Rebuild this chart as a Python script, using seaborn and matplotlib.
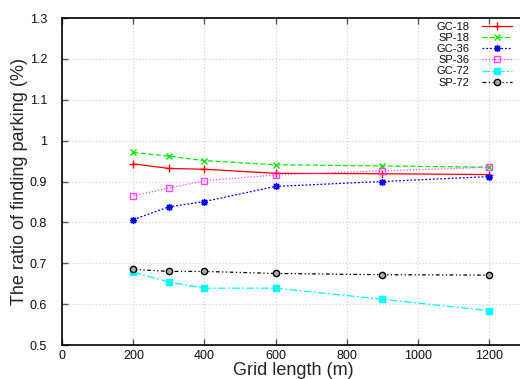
import seaborn as sns
import matplotlib.pyplot as plt
import pandas as pd

# grid lengths (m) and ratio of finding parking per method
grid_length = [200, 300, 400, 600, 900, 1200]
gc_18 = [0.943, 0.932, 0.930, 0.920, 0.919, 0.917]
sp_18 = [0.971, 0.962, 0.951, 0.941, 0.938, 0.935]
gc_36 = [0.807, 0.838, 0.851, 0.888, 0.900, 0.912]
sp_36 = [0.865, 0.884, 0.902, 0.916, 0.926, 0.935]
gc_72 = [0.678, 0.654, 0.639, 0.639, 0.612, 0.584]
sp_72 = [0.685, 0.680, 0.680, 0.675, 0.672, 0.671]

series = {'GC-18': gc_18, 'SP-18': sp_18, 'GC-36': gc_36,
          'SP-36': sp_36, 'GC-72': gc_72, 'SP-72': sp_72}

df = pd.DataFrame({'Grid length': grid_length, **series})
long_df = df.melt(id_vars='Grid length', var_name='Method', value_name='Ratio')

styles = {
    'GC-18': dict(color='#ff0000', ls='-', marker='+', ms=6, mfc='#ff0000', mew=1.0),
    'SP-18': dict(color='#00ee00', ls=(0, (4, 2)), marker='x', ms=4.5, mfc='#00ee00', mew=1.0),
    'GC-36': dict(color='#0000ff', ls=(0, (1.5, 1.5)), marker=(8, 2, 0), ms=5, mfc='#0000ff', mew=1.0),
    'SP-36': dict(color='#ff44ff', ls=(0, (1, 1.5)), marker='s', ms=4.5, mfc='none', mew=1.0),
    'GC-72': dict(color='#00ffff', ls=(0, (6, 2, 1.5, 2)), marker='s', ms=4.5, mfc='#00ffff', mew=1.0),
    'SP-72': dict(color='#000000', ls=(0, (3, 2, 1, 2, 1, 2)), marker='o', ms=4.5, mfc='#aaaaaa', mew=1.0),
}

sns.set_style('ticks')
plt.rcParams['font.family'] = ['Liberation Sans', 'DejaVu Sans']

fig = plt.figure(figsize=(5.2, 3.79), dpi=100)
ax = fig.add_axes([0.120, 0.0897, 0.888, 0.8628])

for name in series:
    st = styles[name]
    sub = long_df[long_df['Method'] == name]
    sns.lineplot(data=sub, x='Grid length', y='Ratio', ax=ax, label=name,
                 color=st['color'], linestyle=st['ls'], linewidth=0.9,
                 marker=st['marker'], markersize=st['ms'],
                 markerfacecolor=st['mfc'], markeredgecolor=st['color'],
                 markeredgewidth=st['mew'])

ax.set_xlim(0, 1300)
ax.set_ylim(0.5, 1.3)
ax.set_xticks([0, 200, 400, 600, 800, 1000, 1200])
ax.set_yticks([0.5, 0.6, 0.7, 0.8, 0.9, 1.0, 1.1, 1.2, 1.3])
ax.set_yticklabels(['0.5', '0.6', '0.7', '0.8', '0.9', '1', '1.1', '1.2', '1.3'])
ax.grid(True, color='#d0d0d0', linestyle=(0, (1, 2)), linewidth=0.8)
ax.tick_params(direction='in', top=True, right=False, labelsize=9, length=4,
               color='#555555', width=1.0, labelcolor='#111111')
ax.tick_params(axis='y', pad=11)
for s in ['left', 'bottom', 'top']:
    ax.spines[s].set_linewidth(1.2)
    ax.spines[s].set_color('black')
ax.spines['right'].set_visible(False)

ax.set_xlabel('Grid length (m)', fontsize=13, labelpad=0)
ax.set_ylabel('The ratio of finding parking (%)', fontsize=13, labelpad=1)

leg = ax.legend(loc='upper right', bbox_to_anchor=(512 / 520, 1 - 22 / 379),
                bbox_transform=fig.transFigure, frameon=False,
                markerfirst=False, fontsize=8, handlelength=2.7,
                labelspacing=0.1, borderpad=0, borderaxespad=0,
                handletextpad=1.1)
for t in leg.get_texts():
    t.set_color('#111111')
# right-align the rows so labels end next to the samples
for col in leg._legend_box._children[-1]._children:
    col.align = 'right'

fig.savefig('out.png', dpi=100)
